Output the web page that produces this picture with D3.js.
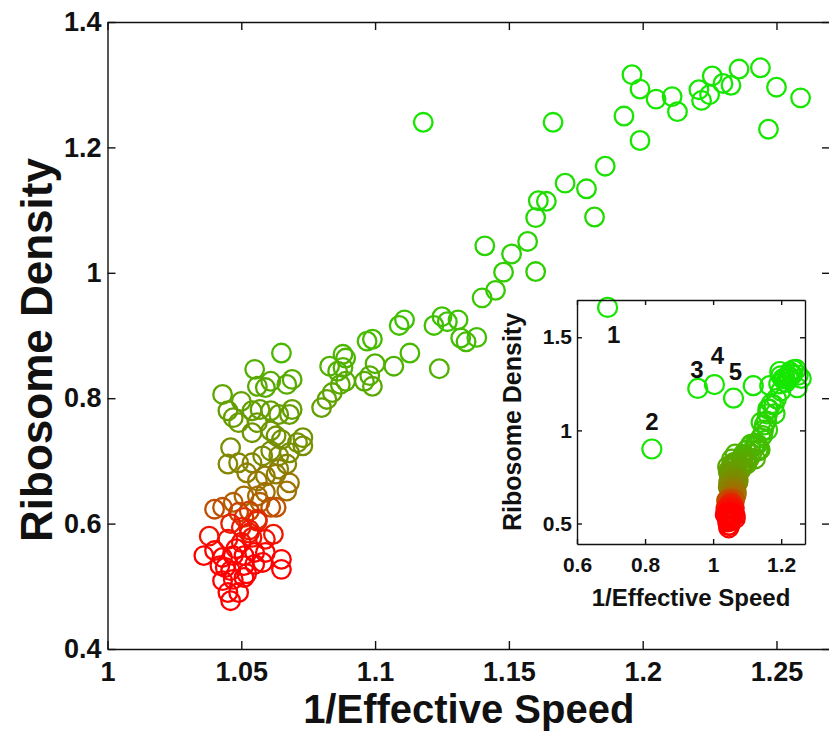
<!DOCTYPE html>
<html>
<head>
<meta charset="utf-8">
<script src="https://cdn.jsdelivr.net/npm/d3@7"></script>
<style>
    body { margin: 0; background: #fff; }
    text { font-family: "Liberation Sans", Arial, Helvetica, sans-serif; font-weight: bold; fill: #111; }
</style>
</head>
<body>
<svg id="chart" width="829" height="738"></svg>
<script>
// 1/effective speed of each gene (x) and its ribosome density (y)
const speed = [
    1.118, 1.1665, 1.196, 1.199, 1.205, 1.211, 1.213, 1.193, 1.199, 1.221, 1.225, 1.226, 1.230, 1.233,
    1.236, 1.244, 1.250, 1.259, 1.247, 1.222,
    1.186, 1.171, 1.179, 1.182, 1.161, 1.164, 1.160, 1.157, 1.151, 1.148, 1.145, 1.140, 1.141, 1.160,
    1.109, 1.111, 1.122, 1.125, 1.127, 1.131, 1.132, 1.134, 1.138, 1.113, 1.124, 1.097, 1.099, 1.088,
    1.089, 1.100, 1.107, 1.083, 1.086, 1.088, 1.087, 1.089, 1.096, 1.099, 1.098, 1.082, 1.080, 1.084,
    1.065, 1.055, 1.069, 1.067, 1.061, 1.059, 1.056, 1.043, 1.050, 1.045, 1.047, 1.049, 1.054, 1.057,
    1.061, 1.064, 1.068, 1.069, 1.056, 1.054, 1.061, 1.063, 1.065, 1.073, 1.073, 1.071, 1.046, 1.045,
    1.049, 1.054, 1.058, 1.061, 1.064, 1.067, 1.068, 1.052, 1.056, 1.059, 1.063, 1.064, 1.067, 1.068,
    1.051, 1.056, 1.059, 1.040, 1.043, 1.047, 1.049, 1.053, 1.057, 1.061, 1.063, 1.051, 1.056,
    1.050, 1.056, 1.038, 1.036, 1.040, 1.045, 1.050, 1.054, 1.059, 1.062, 1.043, 1.047, 1.051, 1.055,
    1.059, 1.065, 1.065, 1.042, 1.046, 1.051, 1.055, 1.058, 1.043, 1.047, 1.051, 1.045, 1.049, 1.046,
    1.048, 1.052, 1.046, 1.053, 1.044, 1.053
]
const density = [
    1.240, 1.240, 1.316, 1.293, 1.277, 1.281, 1.257, 1.250, 1.211, 1.292, 1.284, 1.314, 1.302, 1.299,
    1.325, 1.327, 1.296, 1.279, 1.229, 1.275,
    1.170, 1.143, 1.134, 1.089, 1.115, 1.114, 1.088, 1.050, 1.030, 1.001, 0.972, 0.960, 1.043, 1.002,
    0.916, 0.925, 0.916, 0.930, 0.922, 0.925, 0.896, 0.890, 0.897, 0.872, 0.847, 0.891, 0.894, 0.870,
    0.864, 0.855, 0.851, 0.851, 0.843, 0.849, 0.822, 0.827, 0.827, 0.819, 0.836, 0.798, 0.785, 0.809,
    0.872, 0.846, 0.830, 0.822, 0.827, 0.817, 0.819, 0.806, 0.795, 0.780, 0.769, 0.761, 0.780, 0.782,
    0.780, 0.774, 0.774, 0.782, 0.761, 0.745, 0.748, 0.740, 0.734, 0.737, 0.724, 0.729, 0.721, 0.695,
    0.697, 0.697, 0.708, 0.716, 0.708, 0.695, 0.713, 0.681, 0.668, 0.676, 0.679, 0.687, 0.652, 0.665,
    0.644, 0.644, 0.650, 0.623, 0.626, 0.634, 0.618, 0.620, 0.634, 0.626, 0.626, 0.610, 0.607,
    0.594, 0.604, 0.580, 0.549, 0.557, 0.575, 0.570, 0.578, 0.575, 0.583, 0.546, 0.549, 0.549, 0.554,
    0.554, 0.543, 0.527, 0.533, 0.525, 0.533, 0.535, 0.538, 0.509, 0.511, 0.514, 0.490, 0.490, 0.477,
    0.560, 0.520, 0.600, 0.585, 0.530, 0.590
]

// outlier genes that only fit in the inset, with their numbered labels
const outlierSpeed = [0.69, 0.82, 0.955, 1.004, 1.06]
const outlierDensity = [1.66, 0.90, 1.225, 1.246, 1.173]
const outlierLabels = ["1", "2", "3", "4", "5"]

// axis ticks
const xTicks = [1, 1.05, 1.1, 1.15, 1.2, 1.25]
const yTicks = [0.4, 0.6, 0.8, 1, 1.2, 1.4]
const insetXTicks = [0.6, 0.8, 1, 1.2]
const insetYTicks = [0.5, 1, 1.5]

// red -> green colouring by density
const colorDomain = [0.55, 0.6, 0.64, 0.71, 0.8, 0.9, 1.05, 1.2]
const colorRange = ["#ff0000", "#e82000", "#a86a00", "#7a8c00", "#5ea400", "#42be00", "#28d400", "#16e600"]

const svg = d3.select("#chart")
const points = speed.map((s, i) => ({x: s, y: density[i]}))
    .sort((a, b) => b.y - a.y)   // red ones end on top, as in the figure

const color = d3.scaleLinear().domain(colorDomain).range(colorRange).clamp(true)

// ---------- main axes ----------
const x = d3.scaleLinear().domain([1, 1.27]).range([107.5, 830])
const y = d3.scaleLinear().domain([0.4, 1.4]).range([649, 22])

function styleAxis(g) {
    g.select(".domain").attr("stroke", "#111").attr("stroke-width", 1.4)
    g.selectAll(".tick line").attr("stroke", "#111").attr("stroke-width", 1.4)
    g.selectAll(".tick text").attr("fill", "#111")
}

const fmt = d => String(d)

svg.append("g")
    .attr("transform", `translate(0,${y(0.4)})`)
    .call(d3.axisBottom(x).tickValues(xTicks).tickFormat(fmt).tickSizeInner(-8).tickSizeOuter(0).tickPadding(13))
    .attr("font-size", 27).attr("font-family", null)
    .call(styleAxis)

svg.append("g")
    .attr("transform", `translate(0,${y(1.4)})`)
    .call(d3.axisTop(x).tickValues(xTicks).tickFormat("").tickSizeInner(-8).tickSizeOuter(0))
    .call(styleAxis)

svg.append("g")
    .attr("transform", `translate(${x(1)},0)`)
    .call(d3.axisLeft(y).tickValues(yTicks).tickFormat(fmt).tickSizeInner(-8).tickSizeOuter(0).tickPadding(6))
    .attr("font-size", 27).attr("font-family", null)
    .call(styleAxis)

svg.append("g")
    .attr("transform", `translate(${x(1.27)},0)`)
    .call(d3.axisRight(y).tickValues(yTicks).tickFormat("").tickSizeInner(-8).tickSizeOuter(0))
    .call(styleAxis)

svg.append("text")
    .attr("x", (x(1) + x(1.27)) / 2).attr("y", 723)
    .attr("text-anchor", "middle").attr("font-size", 40)
    .text("1/Effective Speed")

svg.append("text")
    .attr("transform", `translate(52,350) rotate(-90)`)
    .attr("text-anchor", "middle").attr("font-size", 44)
    .text("Ribosome Density")

svg.append("g")
    .selectAll("circle")
    .data(points)
    .join("circle")
        .attr("cx", d => x(d.x))
        .attr("cy", d => y(d.y))
        .attr("r", 9.3)
        .attr("fill", "none")
        .attr("stroke", d => color(d.y))
        .attr("stroke-width", 2.3)

// ---------- inset ----------
const ix = d3.scaleLinear().domain([0.6, 1.27]).range([577, 805])
const iy = d3.scaleLinear().domain([0.39, 1.7]).range([544, 300])

const inset = svg.append("g")

inset.append("rect")
    .attr("x", ix(0.6)).attr("y", iy(1.7))
    .attr("width", ix(1.27) - ix(0.6)).attr("height", iy(0.39) - iy(1.7))
    .attr("fill", "#fff")

inset.append("g")
    .selectAll("circle")
    .data(points)
    .join("circle")
        .attr("cx", d => ix(d.x))
        .attr("cy", d => iy(d.y))
        .attr("r", 9.5)
        .attr("fill", "none")
        .attr("stroke", d => color(d.y))
        .attr("stroke-width", 2.2)

const outliers = outlierSpeed.map((s, i) => ({x: s, y: outlierDensity[i], label: outlierLabels[i]}))
// label offsets (px) from each outlier circle
const labelOffset = [[6, 36], [0, -19], [-1, -10], [3, -21], [2, -18]]

inset.append("g")
    .selectAll("circle")
    .data(outliers)
    .join("circle")
        .attr("cx", d => ix(d.x))
        .attr("cy", d => iy(d.y))
        .attr("r", 9.5)
        .attr("fill", "none")
        .attr("stroke", colorRange[colorRange.length - 1])
        .attr("stroke-width", 2.2)

inset.append("g")
    .selectAll("text")
    .data(outliers)
    .join("text")
        .attr("x", (d, i) => ix(d.x) + labelOffset[i][0])
        .attr("y", (d, i) => iy(d.y) + labelOffset[i][1])
        .attr("text-anchor", "middle")
        .attr("font-size", 24)
        .text(d => d.label)

inset.append("g")
    .attr("transform", `translate(0,${iy(0.39)})`)
    .call(d3.axisBottom(ix).tickValues(insetXTicks).tickFormat(fmt).tickSizeInner(-5).tickSizeOuter(0).tickPadding(13))
    .attr("font-size", 21).attr("font-family", null)
    .call(styleAxis)

inset.append("g")
    .attr("transform", `translate(0,${iy(1.7)})`)
    .call(d3.axisTop(ix).tickValues(insetXTicks).tickFormat("").tickSizeInner(-5).tickSizeOuter(0))
    .call(styleAxis)

inset.append("g")
    .attr("transform", `translate(${ix(0.6)},0)`)
    .call(d3.axisLeft(iy).tickValues(insetYTicks).tickFormat(fmt).tickSizeInner(-5).tickSizeOuter(0).tickPadding(5))
    .attr("font-size", 21).attr("font-family", null)
    .call(styleAxis)

inset.append("g")
    .attr("transform", `translate(${ix(1.27)},0)`)
    .call(d3.axisRight(iy).tickValues(insetYTicks).tickFormat("").tickSizeInner(-5).tickSizeOuter(0))
    .call(styleAxis)

inset.append("text")
    .attr("x", (ix(0.6) + ix(1.27)) / 2).attr("y", 606)
    .attr("text-anchor", "middle").attr("font-size", 24)
    .text("1/Effective Speed")

inset.append("text")
    .attr("transform", `translate(521,${(iy(0.39) + iy(1.7)) / 2}) rotate(-90)`)
    .attr("text-anchor", "middle").attr("font-size", 25)
    .text("Ribosome Density")
</script>
</body>
</html>
